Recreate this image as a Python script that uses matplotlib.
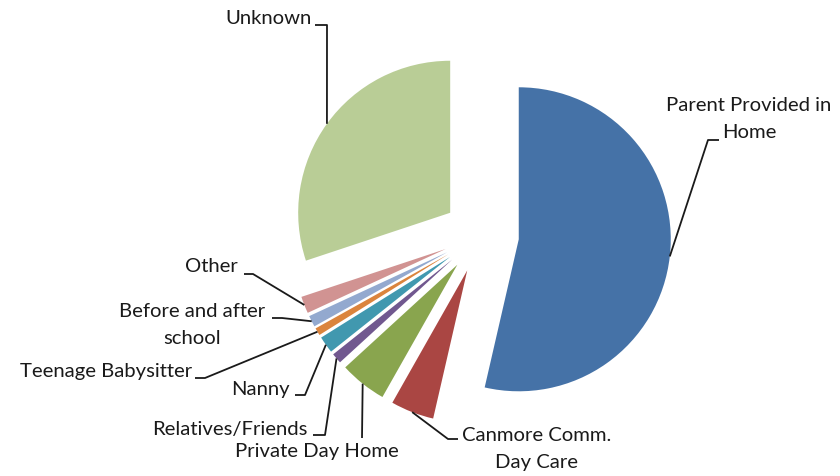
import numpy as np
import matplotlib
matplotlib.use("Agg")
import matplotlib.pyplot as plt

# ---- data (percent of respondents) ----
categories = ["Parent Provided in\nHome", "Canmore Comm.\nDay Care", "Private Day Home",
              "Relatives/Friends", "Nanny", "Teenage Babysitter",
              "Before and after\nschool", "Other", "Unknown"]
values = [53.6, 4.6, 5.0, 1.1, 1.8, 0.8, 1.2, 1.8, 30.1]
colors = ["#4572A7", "#AA4643", "#89A54E", "#71588F", "#4198AF",
          "#DB843D", "#93A9CF", "#D19392", "#B9CD96"]

# ---- layout (pixel positions of the reference image) ----
W, H = 840, 476
CX, CY, R = 481, 235, 152

def px(x, y):
    return (x - CX) / R, (CY - y) / R

# text anchor (x, y), ha, leader start, leader elbow
label_layout = [
    ((749, 119), "center", (719, 140), (708, 140)),
    ((537, 449), "center", (458, 439), (448, 439)),
    ((317, 452), "center", (362, 438), (362, 438)),
    ((308, 430), "right", (313, 435), (325, 435)),
    ((290, 389), "right", (295, 395), (305, 395)),
    ((192, 372), "right", (195, 378), (205, 378)),
    ((192, 325), "center", (272, 318), (282, 318)),
    ((238, 267), "right", (244, 274), (253, 274)),
    ((312, 18), "right", (315, 25), (327, 25)),
]

fig = plt.figure(figsize=(W / 100, H / 100), dpi=100)
ax = fig.add_axes([0, 0, 1, 1])

wedges, _ = ax.pie(values, colors=colors, startangle=90, counterclock=False,
                   explode=[0.25] * len(values), radius=1.0, center=(0, 0))
ax.set_xlim(-CX / R, (W - CX) / R)
ax.set_ylim(-(H - CY) / R, CY / R)
ax.set_aspect("equal")
ax.axis("off")

for w, lab, (tpos, ha, start, elbow) in zip(wedges, categories, label_layout):
    mid = np.deg2rad((w.theta1 + w.theta2) / 2)
    cx, cy = w.center
    ex, ey = cx + w.r * np.cos(mid), cy + w.r * np.sin(mid)
    sx, sy = px(*start)
    bx, by = px(*elbow)
    ax.plot([sx, bx, ex], [sy, by, ey], color="#1a1a1a", lw=1.3,
            solid_capstyle="butt", zorder=3)
    tx, ty = px(*tpos)
    ax.text(tx, ty, lab, ha=ha, va="center", fontsize=14.6, family="Lato",
            color="#1a1a1a", linespacing=1.65, multialignment="center")

fig.savefig("out.png", dpi=100)
